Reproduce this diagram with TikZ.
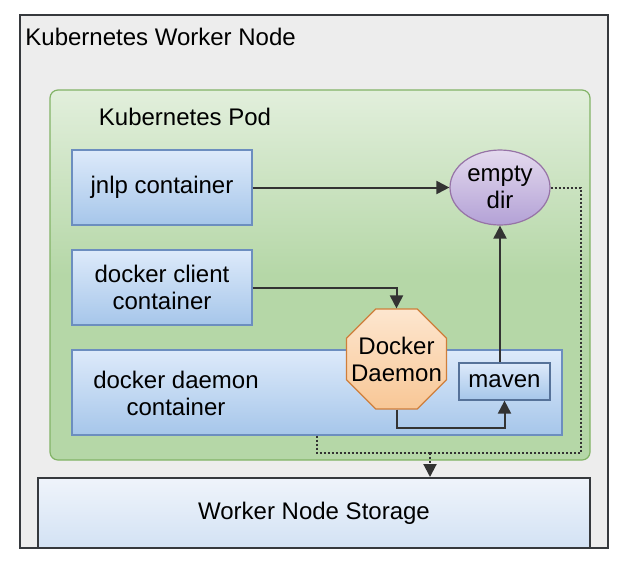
\documentclass[tikz,border=0pt]{standalone}
\usepackage{fontspec}
\setmainfont{Liberation Sans}
\usetikzlibrary{shapes.geometric,arrows.meta}

\definecolor{nodegray}{HTML}{EDEDED}
\definecolor{darkline}{HTML}{36393D}
\definecolor{podtop}{HTML}{E2EFDC}
\definecolor{podgreen}{HTML}{B5D7A7}
\definecolor{podline}{HTML}{82B366}
\definecolor{boxtop}{HTML}{DDEAFA}
\definecolor{boxbottom}{HTML}{A6C6EA}
\definecolor{boxline}{HTML}{6C8EBF}
\definecolor{storetop}{HTML}{EFF4FB}
\definecolor{storebottom}{HTML}{D3E2F4}
\definecolor{daemontop}{HTML}{FDE6CF}
\definecolor{daemonbottom}{HTML}{F8C796}
\definecolor{daemonline}{HTML}{CF7E3A}
\definecolor{dirtop}{HTML}{E4DAEE}
\definecolor{dirbottom}{HTML}{B3A1D6}
\definecolor{dirline}{HTML}{9673A6}
\definecolor{linkgray}{HTML}{333333}

\tikzset{
    box/.style={draw=boxline, line width=0.6pt, top color=boxtop, bottom color=boxbottom,
        align=center, inner sep=0pt},
    link/.style={draw=linkgray, line width=1pt, -{Triangle[length=6.5pt,width=6.5pt]}},
    dots/.style={draw=linkgray, line width=1pt, dash pattern=on 1pt off 1pt}
}

\begin{document}
\begin{tikzpicture}[x=0.5pt, y=-0.5pt, font=\fontsize{12}{13.5}\selectfont]

    \useasboundingbox (0,0) rectangle (630,569);

    % Worker node and pod
    \node[draw=darkline, line width=1pt, fill=nodegray, minimum width=294pt, minimum height=266.5pt] (worker) at (314,281.5) {};
    \node[anchor=west, inner sep=0pt] (workerlabel) at (25,37) {Kubernetes Worker Node};
    \node[draw=podline, line width=0.6pt, rounded corners=4pt, top color=podtop, bottom color=podgreen, middle color=podgreen,
        minimum width=270pt, minimum height=185pt] (pod) at (320,275) {};
    \node (podlabel) at (185,117) {Kubernetes Pod};

    % Storage below the pod
    \node[draw=darkline, line width=1pt, top color=storetop, bottom color=storebottom,
        minimum width=276pt, minimum height=35pt] (storage) at (314,513) {Worker Node Storage};

    % Containers
    \node[box, minimum width=90pt, minimum height=37.5pt] (jnlp) at (162,187.5) {jnlp container};
    \node[box, minimum width=90pt, minimum height=37.5pt] (client) at (162,287.5) {docker client\\container};
    \node[box, minimum width=245pt, minimum height=42.5pt] (daemonbox) at (317,392.5) {};
    \node[align=center] (daemonlabel) at (176,393) {docker daemon\\container};

    % Daemon, maven and the empty dir volume
    \node[regular polygon, regular polygon sides=8, draw=daemonline, line width=0.6pt, top color=daemontop, bottom color=daemonbottom,
        inner sep=0pt, minimum size=54.1pt, label={[align=center]center:Docker\\Daemon}] (daemon) at (396.5,359) {};
    \node[box, draw=boxline!80!black, minimum width=45.5pt, minimum height=18.5pt] (maven) at (504.5,381.5) {maven};
    \node[ellipse, draw=dirline, line width=0.6pt, top color=dirtop, bottom color=dirbottom, align=center,
        inner sep=0pt, minimum width=50pt, minimum height=37.5pt] (emptydir) at (500,187.5) {empty\\dir};

    % Connectors
    \draw[link] (jnlp.east) -- (emptydir.west);
    \draw[link] (client.east) -| (daemon.north);
    \draw[link] (daemon.south) -- ++(0,18) -| (maven.south);
    \draw[link] (emptydir.south |- maven.north) -- (emptydir.south);

    % Dotted paths to the storage
    \coordinate (join) at (430,453);
    \draw[dots] (emptydir.east) -- ++(30,0) |- (join);
    \draw[dots] (daemonbox.south) |- (join);
    \draw[dots, -{Triangle[length=6.5pt,width=6.5pt]}] (join) -- (join |- storage.north);

\end{tikzpicture}
\end{document}
